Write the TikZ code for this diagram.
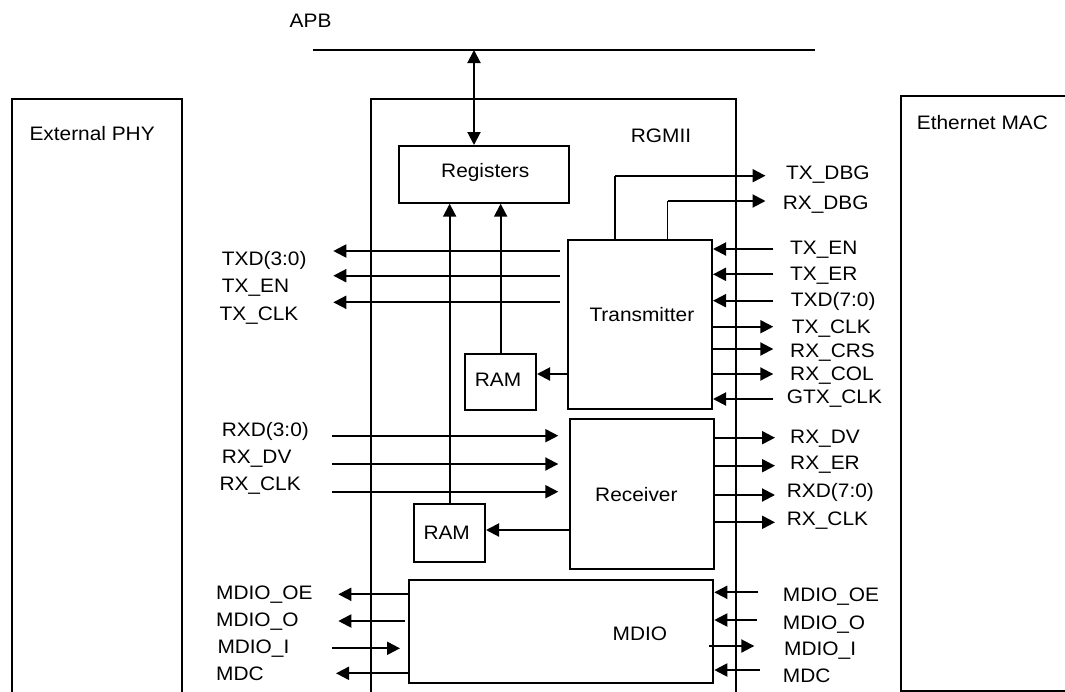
\documentclass[tikz,border=0pt]{standalone}
\usepackage{fontspec}
\setmainfont{Liberation Sans}[FakeStretch=1.07]
\usetikzlibrary{arrows.meta}
\begin{document}
\begin{tikzpicture}[x=1pt,y=-1pt,
  ln/.style={line width=2pt},
  thin line/.style={line width=1pt},
  arr/.style={line width=2pt,-{Triangle[length=13pt,width=13pt]}},
  darr/.style={line width=2pt,{Triangle[length=13pt,width=13pt]}-{Triangle[length=13pt,width=13pt]}},
  blk/.style={draw,line width=2pt,rectangle,inner sep=0pt,anchor=north west},
  lbl/.style={anchor=west,inner sep=0pt,text height=14pt,text depth=0pt,font=\fontsize{19.5}{22}\selectfont},
  lblc/.style={lbl,anchor=center}]
\useasboundingbox (0,0) rectangle (1065,691);
\clip (0,0) rectangle (1065,691);

% outer blocks
\node[blk,minimum width=170.3pt,minimum height=640pt] (phy) at (10.5,98.3) {};
\node[blk,minimum width=365pt,minimum height=640pt] (rgmii) at (370,98.3) {};
\node[blk,minimum width=190pt,minimum height=594.5pt] (mac) at (900,95) {};
% inner blocks
\node[blk,minimum width=169.8pt,minimum height=56.7pt] (reg) at (397.7,145) {};
\node[blk,minimum width=144.3pt,minimum height=169pt] (tx) at (566.7,238.7) {};
\node[blk,minimum width=143.4pt,minimum height=150.3pt] (rx) at (569.3,418) {};
\node[blk,minimum width=70.7pt,minimum height=56.3pt] (tram) at (464.3,352.7) {};
\node[blk,minimum width=70.7pt,minimum height=57.7pt] (rram) at (413.3,503.3) {};
\node[blk,minimum width=304.6pt,minimum height=102.7pt] (mdio) at (407.7,579) {};

% texts
\node[lblc] (tAPB) at (310.6,20.3) {APB};
\node[lbl] (tPHY) at (29.3,133.5) {External PHY};
\node[lbl] (tRGMII) at (630.7,135) {RGMII};
\node[lbl] (tMAC) at (916.7,122.5) {Ethernet MAC};
\node[lbl] (tREG) at (441,170.5) {Registers};
\node[lbl] (tTX) at (589.3,314.5) {Transmitter};
\node[lbl] (tRX) at (595,494.5) {Receiver};
\node[lbl] (tMDIO) at (612.5,633.5) {MDIO};
\node[lbl] (tTRAM) at (474.7,379.2) {RAM};
\node[lbl] (tRRAM) at (423.3,532.2) {RAM};
\node[lbl] (tTXDBG) at (786,172.8) {TX\_DBG};
\node[lbl] (tRXDBG) at (782.6,202.5) {RX\_DBG};
% left labels
\node[lbl] (l1) at (221.7,258.7) {TXD(3:0)};
\node[lbl] (l2) at (221.7,285) {TX\_EN};
\node[lbl] (l3) at (219.3,313.3) {TX\_CLK};
\node[lbl] (l4) at (221.7,429.5) {RXD(3:0)};
\node[lbl] (l5) at (221.7,456.3) {RX\_DV};
\node[lbl] (l6) at (219.3,483.7) {RX\_CLK};
\node[lbl] (l7) at (216,592.7) {MDIO\_OE};
\node[lbl] (l8) at (216,619.8) {MDIO\_O};
\node[lbl] (l9) at (217.3,646.7) {MDIO\_I};
\node[lbl] (l10) at (216,673.7) {MDC};
% right labels
\node[lbl] (r1) at (790,247) {TX\_EN};
\node[lbl] (r2) at (790,273.7) {TX\_ER};
\node[lbl] (r3) at (790.7,299.7) {TXD(7:0)};
\node[lbl] (r4) at (791.7,326.3) {TX\_CLK};
\node[lbl] (r5) at (790,350.5) {RX\_CRS};
\node[lbl] (r6) at (790,373.7) {RX\_COL};
\node[lbl] (r7) at (786.7,396.7) {GTX\_CLK};
\node[lbl] (r8) at (790,436.3) {RX\_DV};
\node[lbl] (r9) at (790,462.2) {RX\_ER};
\node[lbl] (r10) at (786.7,490.3) {RXD(7:0)};
\node[lbl] (r11) at (786.7,518.8) {RX\_CLK};
\node[lbl] (r12) at (782.7,594.5) {MDIO\_OE};
\node[lbl] (r13) at (782.7,622.2) {MDIO\_O};
\node[lbl] (r14) at (784,648.8) {MDIO\_I};
\node[lbl] (r15) at (782.7,675) {MDC};

% free-end coordinates
\coordinate (apbL) at (312.7,50);
\coordinate (apbR) at (815,50);
\coordinate (apbA) at (474,50);
\coordinate (dbgT) at (615,175.7);
\coordinate (dbgTe) at (765.5,175.7);
\coordinate (dbgR) at (667.5,201);
\coordinate (dbgRe) at (765.5,201);
\coordinate (cL1) at (333.3,251);
\coordinate (cL2) at (333.3,275.7);
\coordinate (cL3) at (333.3,302.3);
\coordinate (cL4) at (331.7,435.7);
\coordinate (cL5) at (331.7,464);
\coordinate (cL6) at (331.7,491.7);
\coordinate (cL7) at (338.3,594.3);
\coordinate (cL8) at (338.3,621);
\coordinate (cL8s) at (405,621);
\coordinate (cL9) at (331.7,648.3);
\coordinate (cL9e) at (400,648.3);
\coordinate (cL10) at (336,673.3);
\coordinate (cR1) at (773.3,249);
\coordinate (cR2) at (773.3,274.3);
\coordinate (cR3) at (773.3,300.7);
\coordinate (cR4) at (773.3,326.7);
\coordinate (cR5) at (773.3,349);
\coordinate (cR6) at (773.3,374);
\coordinate (cR7) at (773.3,399);
\coordinate (cR8) at (775,437.7);
\coordinate (cR9) at (775,465.7);
\coordinate (cR10) at (775,495);
\coordinate (cR11) at (775,522.3);
\coordinate (cR12) at (758.3,592.3);
\coordinate (cR13) at (756.7,620);
\coordinate (cR14s) at (709.3,646);
\coordinate (cR14) at (754.3,646);
\coordinate (cR15) at (760,670);

% APB bus
\draw[ln] (apbL) -- (apbR);
\draw[darr] (apbA) -- (apbA |- reg.north);

% RAMs to registers
\draw[arr] (tram.north) -- (tram.north |- reg.south);
\draw[arr] (rram.north) -- (rram.north |- reg.south);
\draw[arr] (tx.west |- 0,374) -- (tram.east |- 0,374);
\draw[arr] (rx.west |- 0,530) -- (rram.east |- 0,530);

% debug outputs
\draw[ln] (dbgT |- tx.north) -- (dbgT);
\draw[arr] (dbgT) -- (dbgTe);
\draw[thin line] (dbgR |- tx.north) -- (dbgR);
\draw[arr] (dbgR) -- (dbgRe);

% left side (PHY)
\draw[arr,shorten <=7pt] (tx.west |- cL1) -- (cL1);
\draw[arr,shorten <=7pt] (tx.west |- cL2) -- (cL2);
\draw[arr,shorten <=7pt] (tx.west |- cL3) -- (cL3);
\draw[arr,shorten >=11pt] (cL4) -- (rx.west |- cL4);
\draw[arr,shorten >=11pt] (cL5) -- (rx.west |- cL5);
\draw[arr,shorten >=11pt] (cL6) -- (rx.west |- cL6);
\draw[arr] (mdio.west |- cL7) -- (cL7);
\draw[arr] (cL8s) -- (cL8);
\draw[arr] (cL9) -- (cL9e);
\draw[arr] (mdio.west |- cL10) -- (cL10);

% right side (MAC)
\draw[arr] (cR1) -- (tx.east |- cR1);
\draw[arr] (cR2) -- (tx.east |- cR2);
\draw[arr] (cR3) -- (tx.east |- cR3);
\draw[arr] (tx.east |- cR4) -- (cR4);
\draw[arr] (tx.east |- cR5) -- (cR5);
\draw[arr] (tx.east |- cR6) -- (cR6);
\draw[arr] (cR7) -- (tx.east |- cR7);
\draw[arr] (rx.east |- cR8) -- (cR8);
\draw[arr] (rx.east |- cR9) -- (cR9);
\draw[arr] (rx.east |- cR10) -- (cR10);
\draw[arr] (rx.east |- cR11) -- (cR11);
\draw[arr] (cR12) -- (mdio.east |- cR12);
\draw[arr] (cR13) -- (mdio.east |- cR13);
\draw[arr] (cR14s) -- (cR14);
\draw[arr] (cR15) -- (mdio.east |- cR15);
\end{tikzpicture}
\end{document}
